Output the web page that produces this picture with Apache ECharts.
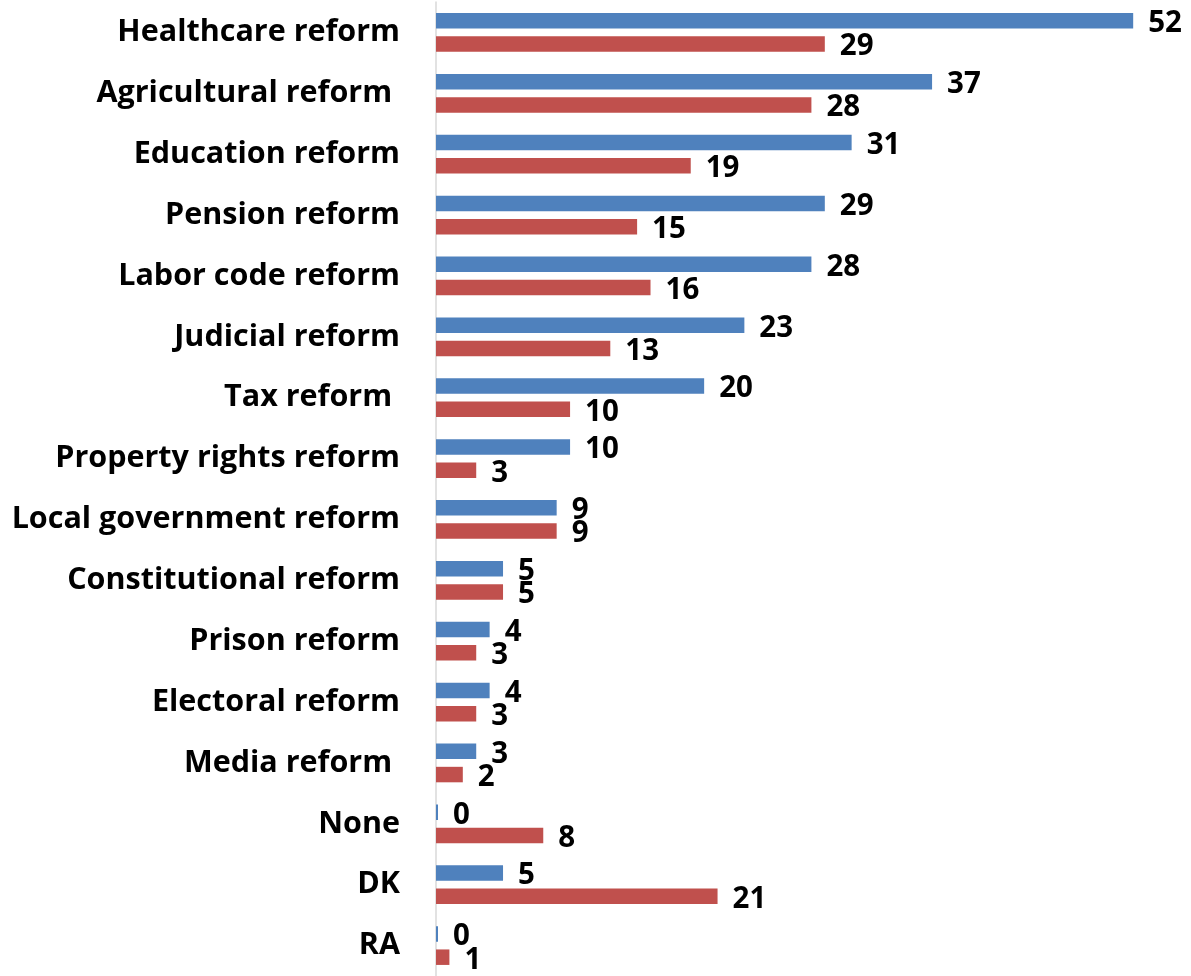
<!DOCTYPE html>
<html>
<head>
<meta charset="utf-8">
<script src="https://cdn.jsdelivr.net/npm/echarts@6/dist/echarts.min.js"></script>
<style>
html,body{margin:0;padding:0;background:#fff;}
#chart{width:1191px;height:976px;}
</style>
</head>
<body>
<div id="chart"></div>
<script>
const categories = ["Healthcare reform","Agricultural reform ","Education reform","Pension reform","Labor code reform","Judicial reform","Tax reform ","Property rights reform","Local government reform","Constitutional reform","Prison reform","Electoral reform","Media reform ","None","DK","RA"];
const seriesBlue = [52,37,31,29,28,23,20,10,9,5,4,4,3,0,5,0];
const seriesRed = [29,28,19,15,16,13,10,3,9,5,3,3,2,8,21,1];

const chart = echarts.init(document.getElementById('chart'), null, {renderer:'canvas'});
const labelStyle = {
  show: true, position: 'right', distance: 15, offset: [0, 3],
  color: '#000', fontFamily: 'Open Sans', fontWeight: 'bold', fontSize: 29.5
};
chart.setOption({
  animation: false,
  backgroundColor: '#fff',
  grid: {left: 436, top: 2, width: 724, height: 977, containLabel: false},
  xAxis: {type: 'value', min: 0, max: 54, show: false},
  yAxis: {
    type: 'category', data: categories, inverse: true,
    axisLine: {show: true, lineStyle: {color: '#D9D9D9', width: 1.5}},
    axisTick: {show: false},
    axisLabel: {color: '#000', fontFamily: 'Open Sans', fontWeight: 'bold', fontSize: 30.5, margin: 36,
                padding: [3, 0, 0, 0]}
  },
  series: [
    {name: 'A', type: 'bar', data: seriesBlue, barWidth: 15.5, barGap: '50%', barMinHeight: 2,
     itemStyle: {color: '#4F81BD'}, label: labelStyle},
    {name: 'B', type: 'bar', data: seriesRed, barWidth: 15.5, barGap: '50%',
     itemStyle: {color: '#C0504D'}, label: labelStyle}
  ]
});
</script>
</body>
</html>
